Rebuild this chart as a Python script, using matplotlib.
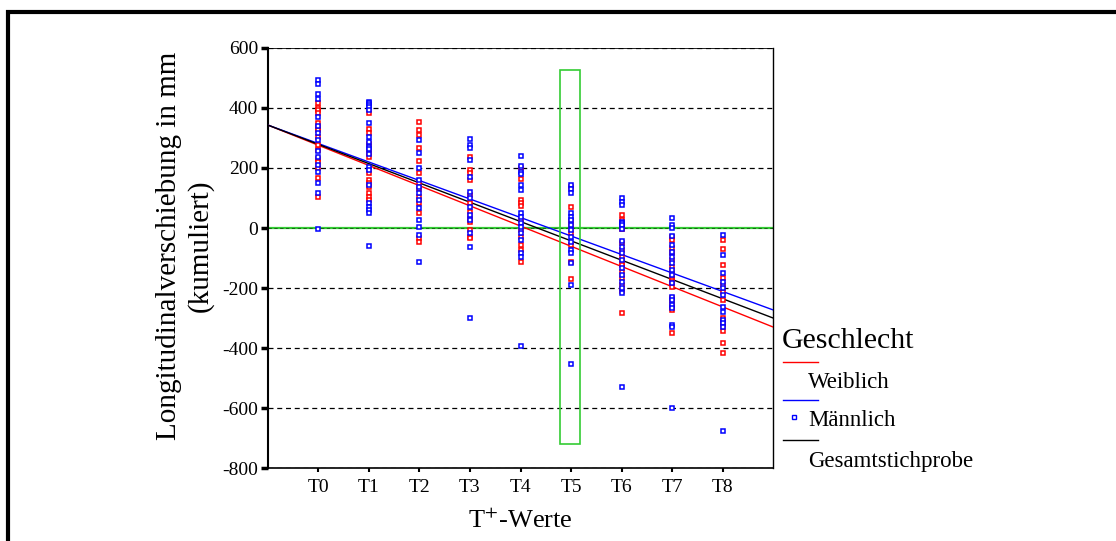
import numpy as np
import matplotlib
matplotlib.use("Agg")
import matplotlib.pyplot as plt
from matplotlib.lines import Line2D
from matplotlib.patches import Rectangle

plt.rcParams["font.family"] = ["Liberation Serif", "DejaVu Serif"]
plt.rcParams["mathtext.fontset"] = "stix"

groups = ["T0", "T1", "T2", "T3", "T4", "T5", "T6", "T7", "T8"]

# Weiblich (red)
female = [
    [416, 399, 393, 384, 349, 332, 327, 304, 277, 260, 229, 221, 199, 166, 104],
    [384, 329, 318, 280, 254, 238, 184, 160, 151, 138, 116, 104, 93],
    [354, 327, 310, 266, 224, 182, 149, 129, 104, 82, 51, -34, -46],
    [238, 193, 182, 160, 110, 82, 54, 32, 21, -7, -29, -34],
    [199, 162, 93, 82, 73, 27, -7, -29, -57, -73, -112],
    [136, 71, 20, 4, -18, -57, -112, -171],
    [43, 27, 4, -4, -51, -73, -96, -118, -123, -146, -168, -190, -209, -284],
    [-29, -40, -68, -84, -107, -129, -151, -168, -173, -179, -196, -234, -245,
     -262, -273, -349],
    [-40, -71, -123, -168, -190, -212, -240, -301, -312, -323, -342, -384, -418],
]

# Männlich (blue)
male = [
    [493, 479, 447, 430, 371, 340, 316, 293, 256, 238, 210, 188, 151, 116, -3],
    [421, 416, 410, 404, 393, 351, 304, 288, 271, 262, 247, 204, 193, 143, 82,
     71, 60, 51, -60],
    [293, 249, 199, 160, 138, 116, 93, 66, 27, 4, -23, -112],
    [296, 277, 266, 227, 171, 121, 99, 71, 43, 27, -18, -62, -299],
    [240, 207, 188, 179, 143, 127, 49, 38, 16, 4, -18, -40, -84, -96, -393],
    [143, 130, 116, 49, 38, 27, 10, -7, -29, -46, -73, -84, -118, -190, -454],
    [99, 88, 77, 21, 16, 10, -3, -42, -62, -84, -107, -134, -157, -179, -201,
     -218, -529],
    [32, 10, -1, -27, -57, -79, -96, -118, -140, -157, -184, -229, -240, -257,
     -268, -323, -329, -601],
    [-23, -90, -151, -179, -201, -223, -262, -279, -307, -318, -329, -676],
]

# linear fits: value at T0 and slope per step
fit_names = ["Weiblich", "Männlich", "Gesamtstichprobe"]
fit_colors = ["red", "blue", "black"]
fit_intercept = [275.7, 281.4, 278.7]
fit_slope = [-67.3, -61.6, -64.3]

# highlighted column T5
box_x = (4.79, 5.17)
box_y = (-720, 527)

yticks = [600, 400, 200, 0, -200, -400, -600, -800]

fig = plt.figure(figsize=(11.16, 5.41), dpi=100)
ax = fig.add_axes([0.2401, 0.1349, 0.4526, 0.7764])

ax.set_xlim(-1, 9)
ax.set_ylim(-800, 600)

for y in yticks:
    if y != 0:
        ax.axhline(y, color="black", lw=0.9, ls=(0, (4, 3)), zorder=1)
ax.axhline(0, color="#33cc33", lw=1.6, zorder=1)
ax.axhline(0, color="black", lw=0.6, ls=(0, (4, 3)), zorder=1.5, alpha=0.6)

xs = np.array([-1, 9])
for b, m, c in zip(fit_intercept, fit_slope, fit_colors):
    ax.plot(xs, b + m * xs, color=c, lw=1.0, zorder=3)

for i in range(len(groups)):
    ax.plot([i] * len(female[i]), female[i], ls="none", marker="s",
            ms=2.7, mfc="white", mec="red", mew=1.1, zorder=4)
    ax.plot([i] * len(male[i]), male[i], ls="none", marker="s",
            ms=2.7, mfc="white", mec="blue", mew=1.1, zorder=4)

ax.add_patch(Rectangle((box_x[0], box_y[0]), box_x[1] - box_x[0],
                       box_y[1] - box_y[0], fill=False, ec="#33cc33",
                       lw=1.2, zorder=5))

ax.set_xticks(range(len(groups)))
ax.set_xticklabels(groups, fontsize=14)
ax.set_yticks(yticks)
ax.set_yticklabels([str(v) for v in yticks], fontsize=14)
ax.tick_params(axis="y", direction="out", length=5, width=2.5, pad=2)
ax.tick_params(axis="x", direction="out", length=3, width=1.5, pad=5)

ax.spines["left"].set_linewidth(1.5)
ax.spines["right"].set_linewidth(1.0)
ax.spines["top"].set_linewidth(0.6)
ax.spines["bottom"].set_linewidth(1.2)

ax.set_ylabel("Longitudinalverschiebung in mm\n(kumuliert)", fontsize=21,
              linespacing=1.22)
ax.yaxis.set_label_coords(-0.108, 0.53)
ax.set_xlabel("T$^{+}$-Werte", fontsize=19, labelpad=9)

# legend drawn in figure pixels (SPSS style layout)
W, H = 1116, 541


def fx(px):
    return px / W


def fy(py):
    return 1 - py / H


fig.text(fx(782), fy(341), "Geschlecht", fontsize=21.5, va="center", ha="left")
leg_line_y = [362, 400, 440]
leg_text_y = [382, 420, 461]
for c, ly in zip(fit_colors, leg_line_y):
    fig.add_artist(Line2D([fx(783), fx(818)], [fy(ly), fy(ly)], color=c, lw=1.0))
for name, ty in zip(fit_names, leg_text_y):
    fig.text(fx(808), fy(ty), name, fontsize=16.5, va="center", ha="left")
fig.add_artist(Line2D([fx(794)], [fy(417)], ls="none", marker="s", ms=2.5,
                      mfc="white", mec="blue", mew=1.0))

# outer frame (top and left edges)
fig.add_artist(Line2D([fx(8), fx(8), fx(1116)], [fy(541), fy(12), fy(12)],
                      color="black", lw=3.0, solid_joinstyle="miter"))

fig.savefig("out.png", dpi=100)
